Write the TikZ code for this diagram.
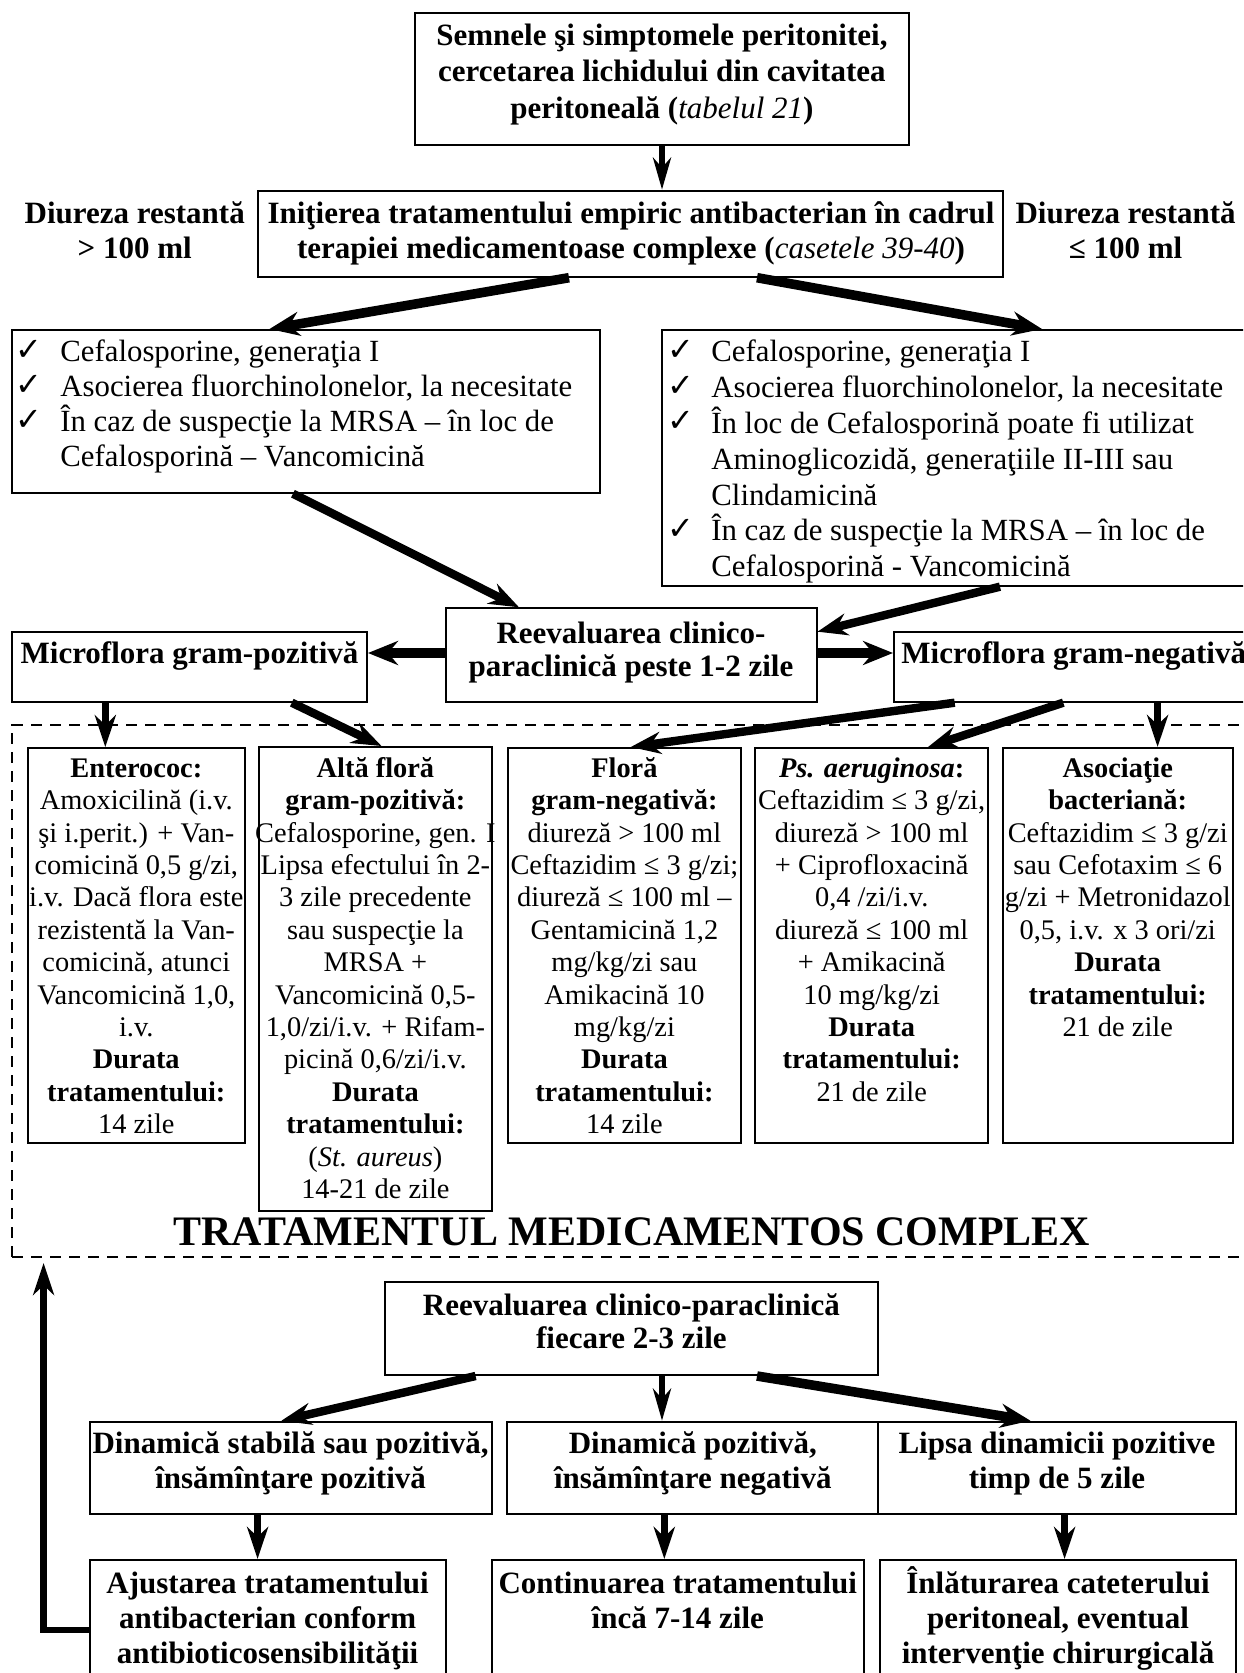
\documentclass[tikz,border=0pt]{standalone}
\usepackage{fontspec}
\setmainfont{Liberation Serif}
\newfontfamily\symfont{DejaVu Sans}
\usetikzlibrary{arrows.meta,fit}

% centred block of lines; the node's base is the baseline of the first line
\newcommand\clines[1]{\vtop{\halign{\hfil##\hfil\cr#1\crcr}}}
% checklist: tick column of fixed width, then left-aligned text
\newcommand\llines[2]{\vtop{\halign{\hbox to #1{##\hfil}&##\hfil\cr#2\crcr}}}
\newcommand\chk{\smash{\raisebox{0.8pt}{\symfont\fontsize{16}{16}\selectfont ✓}}}

\begin{document}
\begin{tikzpicture}[x=0.5pt,y=-0.5pt,
  box/.style={draw, line width=1pt, inner sep=0pt},
  dashbox/.style={draw, line width=1.1pt, dash pattern=on 5.5pt off 4pt, inner sep=0pt},
  bt/.style={font=\fontsize{15.5}{#1}\selectfont\bfseries, anchor=base, inner sep=0pt},
  lt/.style={font=\fontsize{15.4}{#1}\selectfont, anchor=base west, inner sep=0pt},
  dt/.style={font=\fontsize{14.2}{16.2}\selectfont, anchor=base, inner sep=0pt},
  thinarr/.style={line width=2.6pt, -{Stealth[length=16pt, width=9pt, inset=5pt]}},
  medarr/.style={line width=3.2pt, -{Stealth[length=16pt, width=10.5pt, inset=5pt]}},
  thickarr/.style={line width=4.2pt, -{Stealth[length=15pt, width=11pt, inset=5pt]}},
  heavyarr/.style={line width=4.8pt, -{Stealth[length=15pt, width=12pt, inset=5pt]}}
]
\useasboundingbox (0,0) rectangle (1243,1673);
\fill[white] (0,0) rectangle (1243,1673);
\clip (0,0) rectangle (1243,1673);

% ---------- upper part: diagnosis and empiric therapy ----------
\node[box, fit={(414.6,13.3) (909.2,145)}] (signs) {};
\node[bt=18.25pt] (signs-t) at (661.9,45.5)
  {\clines{Semnele şi simptomele peritonitei,\cr cercetarea lichidului din cavitatea\cr peritoneală ({\mdseries\itshape tabelul 21})}};

\node[box, fit={(257.6,190.7) (1002.8,276.7)}] (init) {};
\node[bt=17.5pt] (init-t) at (631,223.5)
  {\clines{Iniţierea tratamentului empiric antibacterian în cadrul\cr terapiei medicamentoase complexe ({\mdseries\itshape casetele 39-40})}};

\node[bt=17.5pt] (diur-hi) at (134.7,223.5) {\clines{Diureza restantă\cr > 100 ml}};
\node[bt=17.5pt] (diur-lo) at (1125.6,223.5) {\clines{Diureza restantă\cr ≤ 100 ml}};

\node[box, fit={(11.9,330) (600,492.7)}] (listL) {};
\node[lt=17.5pt] (listL-t) at (15,362)
  {\llines{22.5pt}{\chk&Cefalosporine, generaţia I\cr
           \chk&Asocierea fluorchinolonelor, la necesitate\cr
           \chk&În caz de suspecţie la MRSA – în loc de\cr
               &Cefalosporină – Vancomicină}};

\node[box, fit={(662,330) (1260,585.7)}] (listR) {};
\node[lt=17.9pt] (listR-t) at (667,362)
  {\llines{22pt}{\chk&Cefalosporine, generaţia I\cr
           \chk&Asocierea fluorchinolonelor, la necesitate\cr
           \chk&În loc de Cefalosporină poate fi utilizat\cr
               &Aminoglicozidă, generaţiile II-III sau\cr
               &Clindamicină\cr
           \chk&În caz de suspecţie la MRSA – în loc de\cr
               &Cefalosporină - Vancomicină}};

% ---------- re-evaluation after 1-2 days ----------
\node[box, fit={(445.5,608.3) (816.5,701.7)}] (reeval) {};
\node[bt=16.7pt] (reeval-t) at (631,643.5)
  {\clines{Reevaluarea clinico-\cr paraclinică peste 1-2 zile}};

\node[box, fit={(11.9,631.7) (367,701.7)}] (gpos) {};
\node[bt=17.5pt] (gpos-t) at (189.5,663.5) {Microflora gram-pozitivă};

\node[box, fit={(894,631.7) (1270,701.7)}] (gneg) {};
\node[bt=17.5pt, anchor=base west] (gneg-t) at (901,663.5) {Microflora gram-negativă};

% ---------- complex drug treatment ----------
\node[dashbox, fit={(12.2,725) (1262,1257)}] (complex) {};

\node[box, fit={(27.7,748.2) (244.9,1142.7)}] (entero) {};
\node[dt] (entero-t) at (136.3,777.3)
  {\clines{\textbf{Enterococ:}\cr Amoxicilină (i.v.\cr şi i.perit.) + Van-\cr comicină 0,5 g/zi,\cr
   i.v. Dacă flora este\cr rezistentă la Van-\cr comicină, atunci\cr Vancomicină 1,0,\cr i.v.\cr
   \textbf{Durata}\cr \textbf{tratamentului:}\cr 14 zile}};

\node[box, fit={(259,747) (491.8,1211)}] (other) {};
\node[dt] (other-t) at (375.4,777.3)
  {\clines{\textbf{Altă floră}\cr \textbf{gram-pozitivă:}\cr Cefalosporine, gen. I\cr Lipsa efectului în 2-\cr
   3 zile precedente\cr sau suspecţie la\cr MRSA +\cr Vancomicină 0,5-\cr 1,0/zi/i.v. + Rifam-\cr
   picină 0,6/zi/i.v.\cr \textbf{Durata}\cr \textbf{tratamentului:}\cr (\textit{St. aureus})\cr 14-21 de zile}};

\node[box, fit={(508,748) (740.7,1142.7)}] (gnflora) {};
\node[dt] (gnflora-t) at (624.4,777.3)
  {\clines{\textbf{Floră}\cr \textbf{gram-negativă:}\cr diureză > 100 ml\cr Ceftazidim ≤ 3 g/zi;\cr
   diureză ≤ 100 ml –\cr Gentamicină 1,2\cr mg/kg/zi sau\cr Amikacină 10\cr mg/kg/zi\cr
   \textbf{Durata}\cr \textbf{tratamentului:}\cr 14 zile}};

\node[box, fit={(755,748) (988.3,1142.7)}] (pseudo) {};
\node[dt] (pseudo-t) at (871.7,777.3)
  {\clines{\textbf{\textit{Ps. aeruginosa}:}\cr Ceftazidim ≤ 3 g/zi,\cr diureză > 100 ml\cr + Ciprofloxacină\cr
   0,4 /zi/i.v.\cr diureză ≤ 100 ml\cr + Amikacină\cr 10 mg/kg/zi\cr
   \textbf{Durata}\cr \textbf{tratamentului:}\cr 21 de zile}};

\node[box, fit={(1002.6,748) (1232.7,1142.7)}] (assoc) {};
\node[dt] (assoc-t) at (1117.7,777.3)
  {\clines{\textbf{Asociaţie}\cr \textbf{bacteriană:}\cr Ceftazidim ≤ 3 g/zi\cr sau Cefotaxim ≤ 6\cr
   g/zi + Metronidazol\cr 0,5, i.v. x 3 ori/zi\cr
   \textbf{Durata}\cr \textbf{tratamentului:}\cr 21 de zile}};

\node[font=\fontsize{21}{24}\selectfont\bfseries, anchor=base, inner sep=0pt] (complex-t)
  at (631.7,1245.5) {TRATAMENTUL MEDICAMENTOS COMPLEX};

% ---------- periodic re-evaluation ----------
\node[box, fit={(384.5,1281.7) (878.3,1375)}] (reeval2) {};
\node[bt=16.7pt] (reeval2-t) at (631.4,1315)
  {\clines{Reevaluarea clinico-paraclinică\cr fiecare 2-3 zile}};

\node[box, fit={(89.6,1421.7) (491.5,1514)}] (dyn1) {};
\node[bt=17.5pt] (dyn1-t) at (290.6,1453.5) {\clines{Dinamică stabilă sau pozitivă,\cr însămînţare pozitivă}};
\node[box, fit={(507.3,1421.7) (878.3,1514)}] (dyn2) {};
\node[bt=17.5pt] (dyn2-t) at (692.8,1453.5) {\clines{Dinamică pozitivă,\cr însămînţare negativă}};
\node[box, fit={(878.3,1421.7) (1236,1514)}] (dyn3) {};
\node[bt=17.5pt] (dyn3-t) at (1057,1453.5) {\clines{Lipsa dinamicii pozitive\cr timp de 5 zile}};

\node[box, fit={(89.6,1560) (445.5,1700)}] (adjust) {};
\node[bt=17.5pt] (adjust-t) at (267.6,1593.5) {\clines{Ajustarea tratamentului\cr antibacterian conform\cr antibioticosensibilităţii}};
\node[box, fit={(491.5,1560) (864,1700)}] (cont) {};
\node[bt=17.5pt] (cont-t) at (677.8,1593.5) {\clines{Continuarea tratamentului\cr încă 7-14 zile}};
\node[box, fit={(880,1560) (1236,1700)}] (remove) {};
\node[bt=17.5pt] (remove-t) at (1058,1593.5) {\clines{Înlăturarea cateterului\cr peritoneal, eventual\cr intervenţie chirurgicală}};

% ---------- connectors ----------
\draw[thinarr] (signs.south -| 662,0) -- (init.north -| 662,0);
\draw[heavyarr] (init.south -| 569,0) -- (listL.north -| 269.5,0);
\draw[heavyarr] (init.south -| 757,0) -- (listR.north -| 1042,0);
\draw[thickarr] (listL.south -| 293,0) -- (reeval.north -| 519,0);
\draw[thickarr] (listR.south -| 1000,0) -- (reeval.east |- 0,631.7);
\draw[heavyarr] (reeval.west |- 0,653) -- (gpos.east |- 0,653);
\draw[heavyarr] (reeval.east |- 0,653) -- (gneg.west |- 0,653);

\draw[medarr] (gpos.south -| 105.3,0) -- (entero.north -| 105.3,0);
\draw[thickarr] (gpos.south -| 291.8,0) -- (other.north -| 381.5,0);
\draw[thickarr] (gneg.south -| 954.7,0) -- (gnflora.north -| 630.8,0);
\draw[thickarr] (gneg.south -| 1063.3,0) -- (pseudo.north -| 928,0);
\draw[medarr] (gneg.south -| 1157.6,0) -- (assoc.north -| 1157.6,0);

\coordinate (back) at (43.6,1263);
\draw[medarr] (adjust.west |- 0,1630) -| (back);

\draw[thickarr] (reeval2.south -| 475.6,0) -- (dyn1.north -| 281.4,0);
\draw[thinarr] (reeval2.south -| 662,0) -- (dyn2.north -| 662,0);
\draw[heavyarr] (reeval2.south -| 757,0) -- (dyn3.north -| 1030.5,0);
\draw[medarr] (dyn1.south -| 257.6,0) -- (adjust.north -| 257.6,0);
\draw[medarr] (dyn2.south -| 664.3,0) -- (cont.north -| 664.3,0);
\draw[medarr] (dyn3.south -| 1064.6,0) -- (remove.north -| 1064.6,0);
\end{tikzpicture}
\end{document}
